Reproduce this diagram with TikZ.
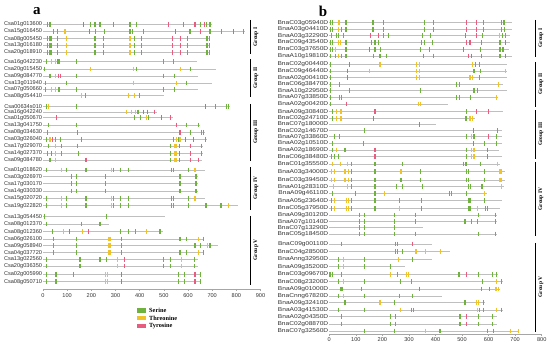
\documentclass[tikz,border=0pt]{standalone}
\usepackage{fontspec}
\setmainfont{Liberation Serif}
\setsansfont{Liberation Sans}
\usepackage{tikz}

\definecolor{colg}{RGB}{112,178,62}
\definecolor{coly}{RGB}{240,196,40}
\definecolor{colp}{RGB}{232,92,128}

% one protein: y, name, length (aa), sites pos/colour
\newcommand{\motifrow}[4]{%
  \node[genelab] (#2) at (0,#1) {#2};
  \draw[backbone] (0,#1) -- (#3,#1);
  \foreach \p/\c in {#4} \draw[site,draw=col\c] (\p,#1-2.4) -- (\p,#1+2.4);
}

\begin{document}
\begin{tikzpicture}[x=1pt,y=-1pt,line cap=butt,
  backbone/.style={draw=gray!50,line width=0.8pt},
  site/.style={line width=1.1pt},
  genelab/.style={anchor=east,inner sep=0pt,xshift=-0.8pt,text=black!80,
    font=\sffamily\fontsize{5.6}{6}\selectfont},
  axlab/.style={anchor=north,inner sep=0pt,text=black!80,
    font=\sffamily\fontsize{5.6}{6}\selectfont},
  grplab/.style={rotate=90,inner sep=0pt,font=\bfseries\fontsize{5.5}{6}\selectfont},
  grpbar/.style={line width=0.9pt},
  leglab/.style={anchor=west,inner sep=0pt,font=\bfseries\fontsize{6.3}{7}\selectfont},
  panlab/.style={inner sep=0pt,font=\bfseries\fontsize{15}{16}\selectfont}]
\useasboundingbox (0,0) rectangle (550,347);

\node[panlab] (pa) at (37,11) {a};
\node[panlab] (pb) at (323,11) {b};

% ---- panel a ----
\begin{scope}[shift={(43,0)},x=0.2417pt]
\motifrow{24.3}{Csa01g013600}{698}{19/g,29/g,167/p,195/g,215/g,236/g,290/g,360/g,388/g,519/p,581/g,629/p,650/g,667/p,675/g,691/g}
\motifrow{31.5}{Csa15g016450}{836}{43/g,59/g,91/y,193/p,216/g,255/g,360/g,372/g,414/g,547/p,608/g,653/p,691/g,739/g,787/p,828/g}
\motifrow{38.7}{Csa08g005450}{692}{20/g,26/g,33/g,59/g,98/y,215/g,250/g,360/y,377/g,409/g,537/p,570/p,598/g,675/g,682/g,689/g}
\motifrow{45.5}{Csa13g016180}{692}{20/g,26/g,33/g,59/g,98/y,215/g,250/g,360/y,377/g,409/g,537/p,570/p,598/g,675/g,682/g,689/g}
\motifrow{52.3}{Csa20g018910}{692}{20/g,26/g,33/g,59/g,98/y,215/g,250/g,360/y,377/g,409/g,537/p,570/p,598/g,675/g,682/g,689/g}
\motifrow{61.7}{Csa16g042230}{636}{15/g,36/y,50/y,59/p,66/g,70/g,139/g,498/g,539/g}
\motifrow{69}{Csa20g015450}{716}{8/g,195/y,374/y,385/g,570/y,611/g}
\motifrow{76}{Csa09g084770}{643}{29/g,50/y,63/p,74/p,139/g,498/g,544/g}
\motifrow{83}{Csa13g011940}{698}{11/g,98/g,374/y,553/y,595/g}
\motifrow{89.3}{Csa07g050660}{643}{11/g,36/y,50/y,63/g,70/g,139/g,498/g,544/g}
\motifrow{95.7}{Csa08g054410}{502}{160/y,174/g,352/y,377/y,398/g}
\motifrow{106.7}{Csa00634s010}{774}{15/g,22/y,137/g,671/p,712/g,760/g,767/g}
\motifrow{112}{Csa16g042240}{471}{344/y,367/y,381/y,393/g,415/p,434/p,462/p}
\motifrow{117.7}{Csa01g050670}{539}{56/p,377/g,402/g,429/y,436/g,491/p,526/p}
\motifrow{125}{Csa13g041750}{650}{22/g,139/g,553/p,595/g,643/g}
\motifrow{132.3}{Csa08g034630}{671}{19/g,144/g,567/p,609/g,657/g,664/g}
\motifrow{139.3}{Csa03g026040}{678}{15/g,29/y,40/p,50/g,73/g,160/g,539/g,553/y,560/g,567/y,588/p,622/p,671/g}
\motifrow{146}{Csa17g029070}{664}{22/g,50/y,75/g,144/g,526/g,546/y,553/y,564/p,609/p,657/g}
\motifrow{153.3}{Csa14g027370}{664}{19/g,36/p,50/y,75/g,147/g,526/g,546/y,553/y,564/p,609/p,657/g}
\motifrow{160}{Csa09g084780}{657}{29/g,50/y,178/p,526/g,546/y,553/y,564/p,609/p,643/p}
\motifrow{170}{Csa01g018620}{671}{15/g,77/y,98/g,178/g,284/y,290/g,319/g,353/g,533/g,539/g,602/g,629/y}
\motifrow{176.7}{Csa03g026970}{643}{119/g,139/g,257/g,567/g,633/g}
\motifrow{183.7}{Csa17g030170}{643}{119/g,139/g,257/g,567/g,633/g}
\motifrow{191}{Csa14g030330}{643}{119/g,139/g,257/g,567/g,633/g}
\motifrow{198.3}{Csa15g020720}{671}{15/g,77/y,98/g,178/g,284/y,290/g,319/g,353/g,533/g,539/g,602/g,629/y}
\motifrow{205.7}{Csa19g022820}{808}{15/g,77/y,98/g,178/g,284/y,290/g,319/g,353/g,533/g,539/g,602/g,671/g,678/g,733/g,740/g,767/y}
\motifrow{216.7}{Csa13g054450}{505}{8/g,264/g}
\motifrow{224}{Csa08g012370}{271}{15/g,160/g,236/g}
\motifrow{231.7}{Csa08g012360}{498}{38/g,84/y,109/p,164/y,187/p,319/g,353/g,381/g,429/y,484/g}
\motifrow{239}{Csa06g026100}{667}{43/g,139/g,270/y,277/y,326/g,567/g,595/g,643/y,664/g}
\motifrow{245.7}{Csa09g058940}{726}{43/g,139/g,270/y,277/y,326/g,629/g,650/g,681/y,691/g}
\motifrow{252.7}{Csa04g037720}{667}{43/g,139/g,270/y,277/y,326/g,567/g,595/g,643/y,664/g}
\motifrow{259.3}{Csa13g022560}{643}{15/g,153/g,236/g,264/g,309/y,336/p,498/g,526/g,574/y,626/g}
\motifrow{266}{Csa20g036350}{643}{15/g,153/g,309/y,336/p,498/g,526/g,574/y,626/g}
\motifrow{274.3}{Csa02g005990}{653}{15/g,50/g,54/g,125/g,260/y,266/y,326/p,560/g,584/g,629/p,650/g}
\motifrow{281.7}{Csa08g050710}{653}{15/g,50/g,54/g,260/y,266/y,326/p,560/g,584/g,629/p,650/g}
% axis
\draw[gray!70,line width=0.6pt] (0,289) -- (900,289);
\foreach \v in {0,100,...,900} {
  \draw[gray!70,line width=0.5pt] (\v,289) -- (\v,291);
  \node[axlab] (axa\v) at (\v,293) {\v};
}
\end{scope}

% groups a
\draw[grpbar] (250,20) -- (250,54);
\node[grplab] (gaI) at (256,37) {Group I};
\draw[grpbar] (250,59) -- (250,97);
\node[grplab] (gaII) at (256,78) {Group II};
\draw[grpbar] (250,104) -- (250,161);
\node[grplab] (gaIII) at (256,132) {Group III};
\draw[grpbar] (250,167) -- (250,210);
\node[grplab] (gaIV) at (256,188) {Group IV};
\draw[grpbar] (250,216) -- (250,285);
\node[grplab] (gaV) at (256,250) {Group V};

% legend
\fill[colg] (137,308.5) rectangle (145.5,313);
\node[leglab] (lser) at (149,310.7) {Serine};
\fill[coly] (137,316) rectangle (145.5,320.5);
\node[leglab] (lthr) at (149,318.3) {Threonine};
\fill[colp] (137,323.7) rectangle (145.5,328.2);
\node[leglab] (ltyr) at (149,326) {Tyrosine};

% ---- panel b ----
\begin{scope}[shift={(329.3,0)},x=0.2655pt,genelab/.append style={xscale=1.18}]
\motifrow{22.7}{BnaC03g05940D}{687}{3/g,12/g,34/y,40/y,63/g,163/g,168/g,203/g,360/g,391/g,517/p,555/p,580/g,649/g,657/g,661/g}
\motifrow{29.3}{BnaA03g04410D}{687}{3/g,12/g,34/y,47/g,63/g,163/g,168/g,203/g,360/g,391/g,517/p,555/p,580/g,649/g,661/g}
\motifrow{35.7}{BnaA03g32290D}{681}{9/g,28/g,34/g,54/g,156/p,184/p,203/g,222/g,352/g,382/g,512/p,556/p,578/g,640/y,653/g,665/g}
\motifrow{42.3}{BnaC09g43540D}{681}{3/g,12/g,34/y,43/y,63/g,160/g,172/g,184/g,348/g,360/g,390/g,517/p,530/p,573/g,643/g,665/p}
\motifrow{49.3}{BnaC03g37650D}{675}{3/g,12/g,25/y,63/g,153/p,172/g,194/g,342/g,379/g,505/p,568/g,643/g,651/g,655/g}
\motifrow{56}{BnaA10g19810D}{687}{3/g,22/g,34/y,47/g,63/g,166/g,191/g,216/g,354/g,391/g,523/p,536/p,573/g,643/g,665/p}
\motifrow{64.3}{BnaC02g00440D}{668}{3/g,75/p,191/y,329/y,339/y,540/y,549/g,565/g}
\motifrow{71}{BnaC09g46440D}{668}{3/g,68/p,153/y,329/y,339/y,545/g,570/g,662/y}
\motifrow{77.7}{BnaA02g00410D}{668}{3/g,68/p,329/y,339/y,530/y,540/y,565/g}
\motifrow{84.3}{BnaC06g38470D}{655}{3/g,40/g,480/g,490/g,637/y}
\motifrow{90.7}{BnaA10g22950D}{668}{3/g,75/g,342/g,545/g,557/g}
\motifrow{97.3}{BnaA07g33850D}{637}{3/g,38/g,47/g,480/g,490/g,533/g,630/y}
\motifrow{104}{BnaA02g00420D}{448}{3/g,65/p,336/y,342/y}
\motifrow{111.7}{BnaA09g30840D}{655}{13/g,28/y,44/y,172/p,517/g,553/p,599/p}
\motifrow{118.3}{BnaC02g24710D}{549}{13/g,28/y,44/y,168/p,515/g,530/y,540/y}
\motifrow{124.3}{BnaC07g18000D}{402}{339/p}
\motifrow{130.7}{BnaC02g14670D}{649}{131/g,542/p,633/g}
\motifrow{136.7}{BnaA07g33860D}{649}{21/g,40/g,517/g,536/y,545/g,599/p,630/g}
\motifrow{143.3}{BnaA02g10510D}{649}{13/g,128/g,542/p,586/g,630/g}
\motifrow{150}{BnaA02g18690D}{640}{13/g,28/y,59/g,172/p,517/g,536/y,545/y,595/p}
\motifrow{156.7}{BnaC06g38480D}{649}{9/g,21/g,34/g,172/p,517/g,536/y,545/y,595/p}
\motifrow{164}{BnaC01g35550D}{643}{13/y,43/y,68/y,84/g,172/g,276/g,505/g,515/g,570/g,633/y}
\motifrow{171.7}{BnaA03g34000D}{661}{9/y,18/y,59/y,72/y,84/g,172/g,270/y,344/g,517/g,524/g,586/g,643/y,649/y}
\motifrow{180}{BnaC03g39450D}{661}{9/y,18/y,59/y,72/y,84/g,172/g,270/g,344/g,517/g,524/g,586/g,643/y,649/y}
\motifrow{186.7}{BnaA01g28310D}{658}{15/y,68/y,84/g,172/g,254/g,276/g,352/g,524/g,533/g,575/g,649/y}
\motifrow{193.3}{BnaA09g46110D}{593}{13/g,97/g,172/g,207/y,452/g,461/g,517/g,586/y}
\motifrow{200.7}{BnaA05g23640D}{649}{9/g,18/y,65/y,72/y,84/g,172/g,266/g,348/g,524/g,530/g,586/g}
\motifrow{208.3}{BnaC05g37950D}{643}{9/g,18/y,65/y,72/y,84/g,172/g,266/y,348/g,524/g,530/g,559/y,590/g,595/g}
\motifrow{215}{BnaA09g30120D}{630}{113/g,134/g,247/g,323/g,561/g,625/g}
\motifrow{221.7}{BnaA07g10140D}{630}{113/g,134/g,247/g,323/g,511/g,536/g,557/g,625/g}
\motifrow{227.7}{BnaC07g13290D}{354}{113/g,134/g,247/g}
\motifrow{234}{BnaC05g18450D}{630}{113/g,134/g,247/g,323/g,561/g,625/g}
\motifrow{244}{BnaC09g00110D}{386}{47/g,251/g,256/g,314/p}
\motifrow{251.7}{BnaC04g28500D}{455}{251/g,256/g,276/g,323/y,329/y,361/y,420/y}
\motifrow{259.3}{BnaAnng32950D}{386}{34/g,53/y,131/g,260/y,314/g}
\motifrow{266.7}{BnaA09g35200D}{285}{34/g,53/y,131/g,230/g}
\motifrow{274.3}{BnaC03g09670D}{636}{0/g,5/g,12/g,47/g,231/y,256/g,291/y,298/y,486/g,492/g,517/p,561/g,615/g,630/g}
\motifrow{281.7}{BnaC08g23200D}{655}{34/g,53/y,131/g,269/g,310/g,578/g,630/y,649/g}
\motifrow{289}{BnaA09g01000D}{643}{44/g,50/g,122/g,339/p,573/g,603/g,628/y,637/y}
\motifrow{296}{BnaCnng67820D}{423}{34/g,53/y,131/g,264/g,314/g}
\motifrow{302.7}{BnaA09g32410D}{586}{59/g,191/y,244/g,511/g,555/y,561/y,580/g}
\motifrow{310}{BnaA03g41530D}{655}{34/g,131/g,269/y,310/g,316/g,558/y,565/g,580/g,630/y,649/g}
\motifrow{316.7}{BnaA02g04350D}{630}{47/g,229/g,251/g,490/g,495/g,517/p,561/g,615/g}
\motifrow{324}{BnaC02g08870D}{630}{47/g,229/g,251/g,490/g,495/g,517/p,561/g,615/g}
\motifrow{331}{BnaC07g32560D}{716}{134/g,244/g,364/y,414/g,420/g,595/g,618/g,681/y,712/y}
% axis
\draw[gray!70,line width=0.6pt] (0,334.5) -- (800,334.5);
\foreach \v in {0,100,...,800} {
  \draw[gray!70,line width=0.5pt] (\v,334.5) -- (\v,336);
  \node[axlab] (axb\v) at (\v,337) {\v};
}
\end{scope}

% groups b
\draw[grpbar] (535,20) -- (535,57);
\node[grplab] (gbI) at (541,38) {Group I};
\draw[grpbar] (535,62) -- (535,107);
\node[grplab] (gbII) at (541,84) {Group II};
\draw[grpbar] (535,110) -- (535,159);
\node[grplab] (gbIII) at (541,134) {Group III};
\draw[grpbar] (535,162) -- (535,236);
\node[grplab] (gbIV) at (541,199) {Group IV};
\draw[grpbar] (535,243) -- (535,332);
\node[grplab] (gbV) at (541,287) {Group V};
\end{tikzpicture}
\end{document}
